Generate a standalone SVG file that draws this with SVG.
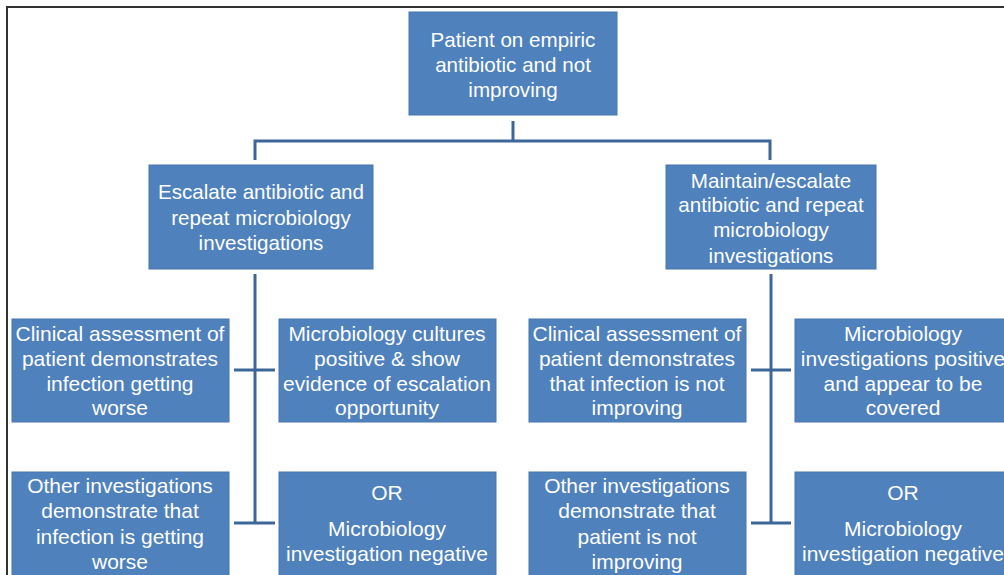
<svg xmlns="http://www.w3.org/2000/svg" width="1004" height="575" viewBox="0 0 1004 575">
<style>
.box{fill:#4f81bd;stroke:#4876ae;stroke-width:1}
.t{font-family:"Liberation Sans",Arial,sans-serif;font-size:21px;fill:#ffffff;text-anchor:middle}
.s{font-size:20.6px}
.ln{stroke:#3d6698;stroke-width:3;fill:none}
</style>
<rect x="0" y="0" width="1004" height="575" fill="#ffffff"/>
<path d="M7,575 V7 H1004" fill="none" stroke="#333333" stroke-width="2"/>
<g id="connectors">
<path class="ln" d="M513,121 V141"/>
<path class="ln" d="M255,160 V141 H770 V160"/>
<path class="ln" d="M255,274 V523"/>
<path class="ln" d="M234,370 H275"/>
<path class="ln" d="M234,523 H275"/>
<path class="ln" d="M771,274 V523"/>
<path class="ln" d="M751,370 H791"/>
<path class="ln" d="M751,523 H791"/>
</g>
<g id="n1"><rect class="box" x="409" y="12" width="208" height="103"/>
<text class="t s" x="513" y="47">Patient on empiric</text><text class="t s" x="513" y="72">antibiotic and not</text><text class="t s" x="513" y="97">improving</text></g>
<g id="n2"><rect class="box" x="149" y="165" width="224" height="104"/>
<text class="t s" x="261" y="199">Escalate antibiotic and</text><text class="t s" x="261" y="225">repeat microbiology</text><text class="t s" x="261" y="250">investigations</text></g>
<g id="n3"><rect class="box" x="666" y="165" width="210" height="104"/>
<text class="t s" x="771" y="188">Maintain/escalate</text><text class="t s" x="771" y="212">antibiotic and repeat</text><text class="t s" x="771" y="237">microbiology</text><text class="t s" x="771" y="263">investigations</text></g>
<g id="n4"><rect class="box" x="12" y="319" width="217" height="103"/>
<text class="t" x="120" y="341">Clinical assessment of</text><text class="t" x="120" y="366">patient demonstrates</text><text class="t" x="120" y="391">infection getting</text><text class="t" x="120" y="415">worse</text></g>
<g id="n5"><rect class="box" x="279" y="319" width="217" height="103"/>
<text class="t" x="387" y="341">Microbiology cultures</text><text class="t" x="387" y="366">positive &amp; show</text><text class="t" x="387" y="391">evidence of escalation</text><text class="t" x="387" y="415">opportunity</text></g>
<g id="n6"><rect class="box" x="12" y="472" width="217" height="110"/>
<text class="t" x="120" y="493">Other investigations</text><text class="t" x="120" y="518">demonstrate that</text><text class="t" x="120" y="544">infection is getting</text><text class="t" x="120" y="569">worse</text></g>
<g id="n7"><rect class="box" x="279" y="472" width="217" height="110"/>
<text class="t" x="387" y="500">OR</text><text class="t" x="387" y="536">Microbiology</text><text class="t" x="387" y="561">investigation negative</text></g>
<g id="n8"><rect class="box" x="529" y="319" width="217" height="103"/>
<text class="t" x="637" y="341">Clinical assessment of</text><text class="t" x="637" y="366">patient demonstrates</text><text class="t" x="637" y="391">that infection is not</text><text class="t" x="637" y="415">improving</text></g>
<g id="n9"><rect class="box" x="795" y="319" width="217" height="103"/>
<text class="t" x="903" y="341">Microbiology</text><text class="t" x="903" y="366">investigations positive</text><text class="t" x="903" y="391">and appear to be</text><text class="t" x="903" y="415">covered</text></g>
<g id="n10"><rect class="box" x="529" y="472" width="217" height="110"/>
<text class="t" x="637" y="493">Other investigations</text><text class="t" x="637" y="518">demonstrate that</text><text class="t" x="637" y="544">patient is not</text><text class="t" x="637" y="569">improving</text></g>
<g id="n11"><rect class="box" x="795" y="472" width="217" height="110"/>
<text class="t" x="903" y="500">OR</text><text class="t" x="903" y="536">Microbiology</text><text class="t" x="903" y="561">investigation negative</text></g>
</svg>
